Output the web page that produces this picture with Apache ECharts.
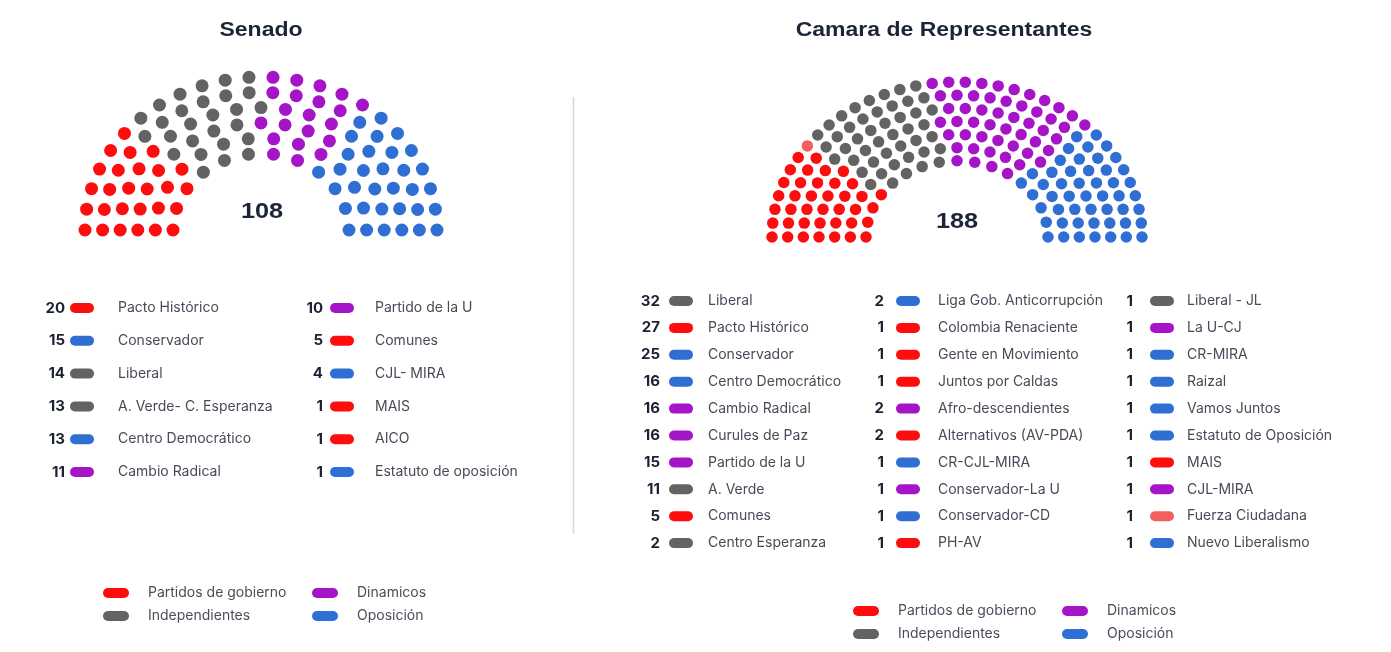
<!DOCTYPE html>
<html>
<head>
<meta charset="utf-8">
<title>Senado y Camara</title>
<script src="https://cdn.jsdelivr.net/npm/echarts@6/dist/echarts.min.js"></script>
<style>
  html, body { margin: 0; padding: 0; background: #fff; }
  #main { width: 1391px; height: 652px; }
</style>
</head>
<body>
<div id="main"></div>
<script>
// bloques (orden de los asientos en el hemiciclo)
var blocNames = ['Partidos de gobierno', 'Independientes', 'Dinamicos', 'Oposición'];
var blocColors = ['#fd0d0d', '#636363', '#a514c7', '#2f6fd3'];

// Senado, en el orden de la lista
var senadoParties = ['Pacto Histórico', 'Conservador', 'Liberal', 'A. Verde- C. Esperanza', 'Centro Democrático', 'Cambio Radical',
  'Partido de la U', 'Comunes', 'CJL- MIRA', 'MAIS', 'AICO', 'Estatuto de oposición'];
var senadoSeats = [20, 15, 14, 13, 13, 11, 10, 5, 4, 1, 1, 1];
var senadoBloc = [0, 3, 1, 1, 3, 2, 2, 0, 3, 0, 0, 3];
var senadoTotal = 108;

// Camara, en el orden de la lista
var camaraParties = ['Liberal', 'Pacto Histórico', 'Conservador', 'Centro Democrático', 'Cambio Radical', 'Curules de Paz',
  'Partido de la U', 'A. Verde', 'Comunes', 'Centro Esperanza',
  'Liga Gob. Anticorrupción', 'Colombia Renaciente', 'Gente en Movimiento', 'Juntos por Caldas', 'Afro-descendientes',
  'Alternativos (AV-PDA)', 'CR-CJL-MIRA', 'Conservador-La U', 'Conservador-CD', 'PH-AV',
  'Liberal - JL', 'La U-CJ', 'CR-MIRA', 'Raizal', 'Vamos Juntos', 'Estatuto de Oposición', 'MAIS', 'CJL-MIRA',
  'Fuerza Ciudadana', 'Nuevo Liberalismo'];
var camaraSeats = [32, 27, 25, 16, 16, 16, 15, 11, 5, 2,
  2, 1, 1, 1, 2, 2, 1, 1, 1, 1,
  1, 1, 1, 1, 1, 1, 1, 1, 1, 1];
var camaraBloc = [1, 0, 3, 3, 2, 2, 2, 1, 0, 1,
  3, 0, 0, 0, 2, 0, 3, 2, 3, 0,
  1, 2, 3, 3, 3, 3, 0, 2, 0, 3];
var camaraTotal = 188;

var colorOverride = { 'Fuerza Ciudadana': '#f35f5f' };
var FONT = 'Inter, "Noto Sans", sans-serif';
var PILL = 'path://M5,0 L21,0 A5,5 0 0 1 21,10 L5,10 A5,5 0 0 1 5,0 Z';

function partyColor(name, bloc) {
  return colorOverride[name] || blocColors[bloc];
}

// reparte los asientos en filas y los ordena por angulo (0 = izquierda, 180 = derecha)
function hemicycle(total, rows, inner) {
  var radii = [], sum = 0;
  for (var i = 0; i < rows; i++) {
    var r = inner + (1 - inner) * i / (rows - 1);
    radii.push(r);
    sum += r;
  }
  var raw = radii.map(function (r) { return total * r / sum; });
  var counts = raw.map(Math.floor);
  var left = total - counts.reduce(function (a, b) { return a + b; }, 0);
  var idx = raw.map(function (v, i) { return i; }).sort(function (a, b) {
    return (raw[b] - counts[b]) - (raw[a] - counts[a]);
  });
  for (var k = 0; k < left; k++) counts[idx[k]]++;
  var seats = [];
  radii.forEach(function (r, i) {
    var n = counts[i];
    for (var j = 0; j < n; j++) seats.push({ r: r, a: n > 1 ? 180 * j / (n - 1) : 90 });
  });
  seats.sort(function (p, q) { return p.a - q.a || q.r - p.r; });
  return seats;
}

function buildSeries(parties, seats, blocs, total, rows, inner, gridIndex, size) {
  var pos = hemicycle(total, rows, inner);
  var order = parties.map(function (p, i) { return i; }).sort(function (a, b) {
    return blocs[a] - blocs[b] || a - b;
  });
  var data = blocNames.map(function () { return []; });
  var s = 0;
  order.forEach(function (i) {
    for (var k = 0; k < seats[i]; k++) {
      var p = pos[s++];
      var t = p.a * Math.PI / 180;
      var item = { name: parties[i], value: [-p.r * Math.cos(t), p.r * Math.sin(t)] };
      if (colorOverride[parties[i]]) item.itemStyle = { color: colorOverride[parties[i]] };
      data[blocs[i]].push(item);
    }
  });
  return blocNames.map(function (b, bi) {
    return {
      type: 'scatter',
      name: b,
      xAxisIndex: gridIndex,
      yAxisIndex: gridIndex,
      clip: false,
      symbolSize: size,
      itemStyle: { color: blocColors[bi], opacity: 1 },
      data: data[bi]
    };
  });
}

// listas de partidos: numero, pastilla y nombre
function partyList(parties, seats, blocs, cols, perCol, top, step) {
  var els = [];
  parties.forEach(function (p, i) {
    var c = cols[Math.floor(i / perCol)];
    var y = top + (i % perCol) * step;
    els.push({
      type: 'text', x: c.num, y: y,
      style: { text: String(seats[i]), font: 'bold 15px ' + FONT, fill: '#1d2233',
        align: 'right', textAlign: 'right', verticalAlign: 'middle', textVerticalAlign: 'middle' }
    });
    els.push({
      type: 'rect', shape: { x: c.pill, y: y - 5, width: 24, height: 10, r: 5 },
      style: { fill: partyColor(p, blocs[i]) }
    });
    els.push({
      type: 'text', x: c.text, y: y,
      style: { text: p, font: '14px ' + FONT, fill: '#474b57',
        align: 'left', textAlign: 'left', verticalAlign: 'middle', textVerticalAlign: 'middle' }
    });
  });
  return els;
}

function centerText(text, x, y, size) {
  return {
    type: 'text', x: x, y: y, scaleX: 1.15,
    style: { text: text, font: 'bold ' + size + 'px "Liberation Sans", Arial, sans-serif', fill: '#1c2438',
      align: 'center', textAlign: 'center', verticalAlign: 'middle', textVerticalAlign: 'middle' }
  };
}

function legendBox(data, left, top) {
  return {
    data: data, left: left, top: top, orient: 'vertical', padding: 0,
    icon: PILL, itemWidth: 26, itemHeight: 10, itemGap: 7,
    itemStyle: { opacity: 1 },
    textStyle: { fontFamily: FONT, fontSize: 14, color: '#4a4e5b', lineHeight: 16, padding: [0, 0, 0, 14] }
  };
}

function hiddenAxis(gridIndex, min, max) {
  return { gridIndex: gridIndex, type: 'value', min: min, max: max, show: false };
}

var chart = echarts.init(document.getElementById('main'));

var graphics = [
  centerText('Senado', 261, 30, 20),
  centerText('Camara de Representantes', 944, 30, 20),
  centerText('108', 262, 212, 22),
  centerText('188', 957, 222, 22),
  { type: 'line', shape: { x1: 573.5, y1: 97, x2: 573.5, y2: 534 }, style: { stroke: '#d6d6de', lineWidth: 1.5 } }
];
graphics = graphics.concat(
  partyList(senadoParties, senadoSeats, senadoBloc,
    [{ num: 65, pill: 70, text: 118 }, { num: 323, pill: 330, text: 375 }], 6, 308, 32.8),
  partyList(camaraParties, camaraSeats, camaraBloc,
    [{ num: 660, pill: 669, text: 708 }, { num: 884, pill: 896, text: 938 }, { num: 1133, pill: 1150, text: 1187 }],
    10, 301, 26.9)
);

var option = {
  backgroundColor: '#fff',
  animation: false,
  tooltip: { trigger: 'item', formatter: function (p) { return p.seriesName + '<br/>' + p.name; } },
  grid: [
    { left: 85, top: 77, width: 352, height: 153 },
    { left: 772, top: 82, width: 370, height: 155 }
  ],
  xAxis: [hiddenAxis(0, -1, 1), hiddenAxis(1, -1, 1)],
  yAxis: [hiddenAxis(0, 0, 1), hiddenAxis(1, 0, 1)],
  legend: [
    legendBox(['Partidos de gobierno', 'Independientes'], 103, 585),
    legendBox(['Dinamicos', 'Oposición'], 312, 585),
    legendBox(['Partidos de gobierno', 'Independientes'], 853, 603),
    legendBox(['Dinamicos', 'Oposición'], 1062, 603)
  ],
  graphic: graphics,
  series: [].concat(
    buildSeries(senadoParties, senadoSeats, senadoBloc, senadoTotal, 6, 0.5, 0, 13),
    buildSeries(camaraParties, camaraSeats, camaraBloc, camaraTotal, 7, 91 / 185, 1, 11.5)
  )
};

chart.setOption(option);
</script>
</body>
</html>
